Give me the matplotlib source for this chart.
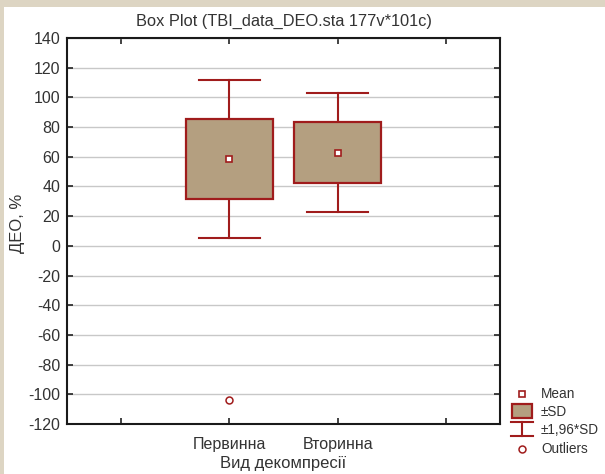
import matplotlib
matplotlib.use("Agg")
import matplotlib.pyplot as plt
from matplotlib.patches import Rectangle

plt.rcParams['font.family'] = ['Liberation Sans', 'DejaVu Sans']
plt.rcParams['axes.unicode_minus'] = False

categories = ['Первинна', 'Вторинна']
means = [58.5, 62.8]
sds = [27.0, 20.4]
sd_factor = 1.96
outlier_cats = [0]
outlier_vals = [-104.0]
y_ticks = list(range(-120, 141, 20))
title = 'Box Plot (TBI_data_DEO.sta 177v*101c)'
xlabel = 'Вид декомпресії'
ylabel = 'ДЕО, %'
legend_labels = ['Mean', '±SD', '±1,96*SD', 'Outliers']

RED = '#a01c1c'
FACE = '#b49f80'
BEIGE = '#ddd5c3'

W, H = 605, 474
fig = plt.figure(figsize=(W / 100, H / 100), dpi=100)
fig.patch.set_facecolor(BEIGE)
fig.patches.append(Rectangle((4 / W, 0), 1 - 4 / W, 1 - 7 / H, transform=fig.transFigure,
                             facecolor='white', edgecolor='none', zorder=-10))

ax = fig.add_axes([67 / W, (H - 424) / H, (500 - 67) / W, (424 - 38) / H])
ax.set_facecolor('white')

xpos = [1, 2]
box_w = 0.80
cap_w = 0.57
for x, m, s in zip(xpos, means, sds):
    lo, hi = m - sd_factor * s, m + sd_factor * s
    ax.plot([x, x], [m + s, hi], color=RED, lw=1.5, zorder=3)
    ax.plot([x, x], [lo, m - s], color=RED, lw=1.5, zorder=3)
    ax.plot([x - cap_w / 2, x + cap_w / 2], [hi, hi], color=RED, lw=1.5, zorder=3)
    ax.plot([x - cap_w / 2, x + cap_w / 2], [lo, lo], color=RED, lw=1.5, zorder=3)
    ax.add_patch(Rectangle((x - box_w / 2, m - s), box_w, 2 * s, facecolor=FACE,
                           edgecolor=RED, lw=1.6, zorder=4))
    ax.plot([x], [m], marker='s', ms=5, mfc='white', mec=RED, mew=1.2, zorder=5)

for c, v in zip(outlier_cats, outlier_vals):
    ax.plot([xpos[c]], [v], marker='o', ms=5, mfc='white', mec=RED, mew=1.1, ls='none', zorder=5)

ax.set_xlim(-0.5, 3.5)
ax.set_ylim(-120, 140)
ax.set_xticks([0, 1, 2, 3])
ax.set_xticklabels([''] + categories + [''])
ax.set_yticks(y_ticks)
ax.yaxis.grid(True, color='#c8c8c8', lw=1.0, zorder=0)
ax.set_axisbelow(True)
ax.tick_params(direction='in', top=True, right=True, labelsize=11.5, length=4, width=1.2,
               colors='#222222', labelcolor='#333333')
ax.tick_params(axis='x', pad=9)
ax.tick_params(axis='y', pad=5)
for sp in ax.spines.values():
    sp.set_linewidth(1.5)
    sp.set_color('#1a1a1a')

ax.set_title(title, fontsize=11.8, color='#333333', pad=9)
ax.set_xlabel(xlabel, fontsize=12, color='#333333', labelpad=3)
ax.set_ylabel(ylabel, fontsize=12, color='#333333')
ax.yaxis.set_label_coords((25 - 67) / 433, (424 - 223) / 386)

# legend drawn in pixel coordinates
lg = fig.add_axes([0, 0, 1, 1], zorder=10)
lg.set_xlim(0, W)
lg.set_ylim(H, 0)
lg.axis('off')
lg.patch.set_alpha(0)
mx = 522
rows = [394, 412, 430, 449]
lg.plot([mx], [rows[0]], marker='s', ms=5, mfc='white', mec=RED, mew=1.2)
lg.add_patch(Rectangle((512, 404), 20, 14, facecolor=FACE, edgecolor=RED, lw=1.6))
lg.plot([511, 533], [422, 422], color=RED, lw=1.5)
lg.plot([511, 533], [436, 436], color=RED, lw=1.5)
lg.plot([mx, mx], [422, 436], color=RED, lw=1.5)
lg.plot([mx], [rows[3]], marker='o', ms=5, mfc='white', mec=RED, mew=1.1)
for r, t in zip(rows, legend_labels):
    lg.text(541, r, t, fontsize=9.8, va='center', ha='left', color='#333333')

fig.savefig('out.png', dpi=100, facecolor=fig.get_facecolor())
